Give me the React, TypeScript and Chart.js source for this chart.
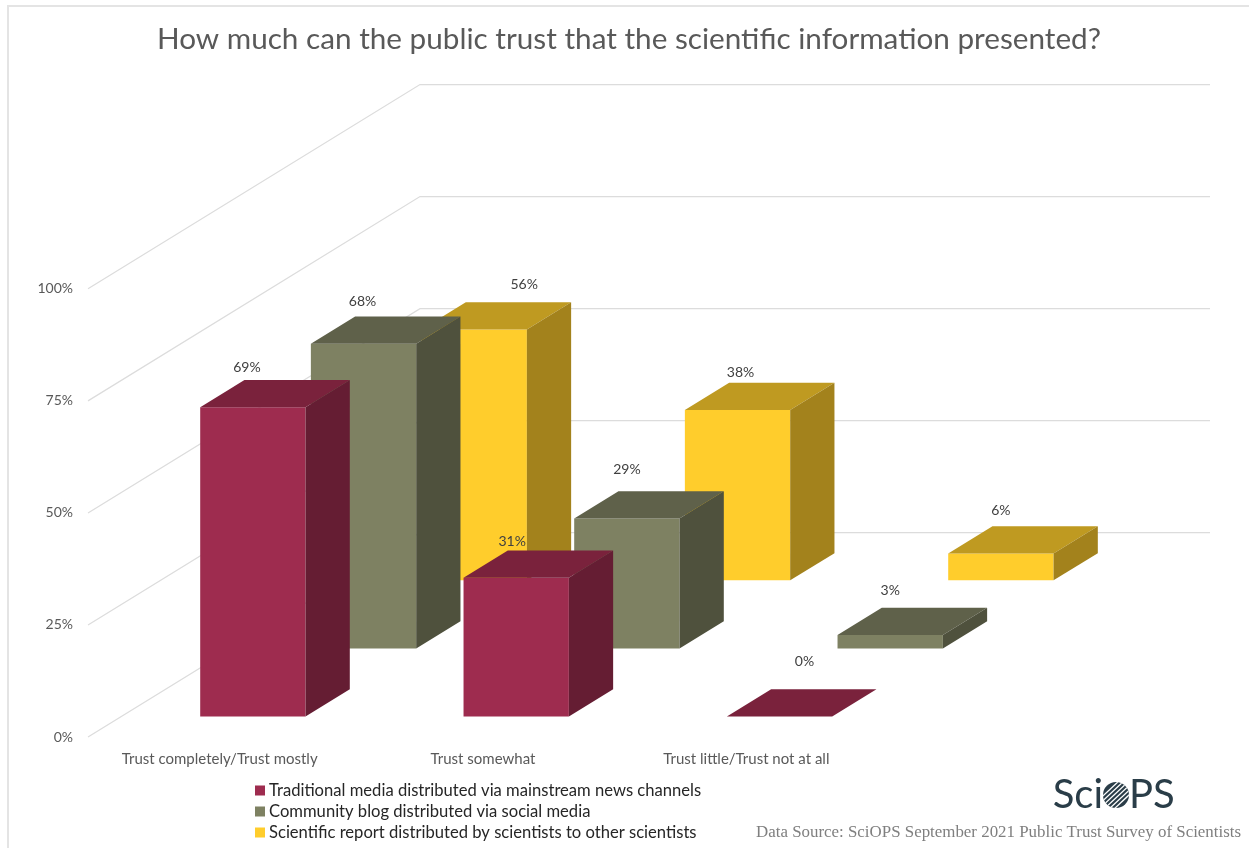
import React, { useEffect, useRef } from "react";
import { Chart, registerables } from "chart.js";

Chart.register(...registerables);

const categories = ["Trust completely/Trust mostly", "Trust somewhat", "Trust little/Trust not at all"];
const traditionalMedia = [69, 31, 0];
const communityBlog = [68, 29, 3];
const scientificReport = [56, 38, 6];
const seriesNames = [
  "Traditional media distributed via mainstream news channels",
  "Community blog distributed via social media",
  "Scientific report distributed by scientists to other scientists",
];
const axisTicks = [0, 25, 50, 75, 100];

const FRONT_COLORS = ["#9E2C4F", "#7E8162", "#FFCD2C"];
const TOP_COLORS = ["#7A223C", "#5F614A", "#BF9A21"];
const SIDE_COLORS = ["#651D33", "#4F513D", "#A3821C"];

const TITLE = "How much can the public trust that the scientific information presented?";
const SOURCE = "Data Source: SciOPS September 2021 Public Trust Survey of Scientists";
const TEXT_GREY = "#595959";
const BODY_FONT = "Lato";

// Oblique projection of the floor: total shift from the front edge to the back wall.
const DEPTH_X = 332;
const DEPTH_Y = -204.3;
const SERIES_COUNT = 3;
const BAR_DEPTH_RATIO = 0.4;
const GAP_RATIO = (1 - BAR_DEPTH_RATIO) / 2;

// Hand placed data label shifts per series/category, relative to the middle of a bar's front top edge.
const LABEL_SHIFTS = [
  [[-6, -40], [-4, -36], [25, -55]],
  [[-1, -42], [0, -49], [0, -45]],
  [[50, -45], [3, -38], [0, -43]],
];

const seriesOffset = (index: number) => ({
  x: (DEPTH_X / SERIES_COUNT) * (index + GAP_RATIO),
  y: (DEPTH_Y / SERIES_COUNT) * (index + GAP_RATIO),
});
const barDepth = {
  x: (DEPTH_X / SERIES_COUNT) * BAR_DEPTH_RATIO,
  y: (DEPTH_Y / SERIES_COUNT) * BAR_DEPTH_RATIO,
};

function polygon(ctx: CanvasRenderingContext2D, points: number[][], fill: string) {
  ctx.beginPath();
  points.forEach(([x, y], i) => (i ? ctx.lineTo(x, y) : ctx.moveTo(x, y)));
  ctx.closePath();
  ctx.fillStyle = fill;
  ctx.fill();
}

// Gridlines run along the left wall and then across the back wall.
const wallGridPlugin = {
  id: "wallGrid",
  beforeDatasetsDraw(chart: any) {
    const { ctx, chartArea } = chart;
    const y = chart.scales.y;
    ctx.save();
    ctx.strokeStyle = "#DCDCDC";
    ctx.lineWidth = 1.2;
    y.ticks.forEach((tick: any) => {
      const py = y.getPixelForValue(tick.value);
      ctx.beginPath();
      ctx.moveTo(chartArea.left, py);
      ctx.lineTo(chartArea.left + DEPTH_X, py + DEPTH_Y);
      ctx.lineTo(chartArea.right + DEPTH_X, py + DEPTH_Y);
      ctx.stroke();
    });
    ctx.restore();
  },
};

// Shifts each series back along the floor and adds the top and side faces of its bars.
const extrudePlugin = {
  id: "extrude",
  beforeDatasetDraw(chart: any, args: any) {
    const off = seriesOffset(args.index);
    chart.ctx.save();
    chart.ctx.translate(off.x, off.y);
  },
  afterDatasetDraw(chart: any, args: any) {
    const ctx = chart.ctx;
    chart.getDatasetMeta(args.index).data.forEach((bar: any) => {
      const left = bar.x - bar.width / 2;
      const right = bar.x + bar.width / 2;
      const dx = barDepth.x;
      const dy = barDepth.y;
      polygon(ctx, [[left, bar.y], [right, bar.y], [right + dx, bar.y + dy], [left + dx, bar.y + dy]], TOP_COLORS[args.index]);
      if (bar.base > bar.y) {
        polygon(ctx, [[right, bar.y], [right + dx, bar.y + dy], [right + dx, bar.base + dy], [right, bar.base]], SIDE_COLORS[args.index]);
      }
    });
    ctx.restore();
  },
};

const dataLabelPlugin = {
  id: "valueLabels",
  afterDatasetsDraw(chart: any) {
    const { ctx } = chart;
    ctx.save();
    ctx.font = `14px ${BODY_FONT}`;
    ctx.fillStyle = "#404040";
    ctx.textAlign = "center";
    ctx.textBaseline = "middle";
    chart.data.datasets.forEach((dataset: any, s: number) => {
      const off = seriesOffset(s);
      chart.getDatasetMeta(s).data.forEach((bar: any, c: number) => {
        const [sx, sy] = LABEL_SHIFTS[s][c];
        ctx.fillText(`${dataset.data[c]}%`, bar.x + off.x + sx, bar.y + off.y + sy);
      });
    });
    ctx.restore();
  },
};

// Stacked legend, frame, source note and wordmark around the plot.
const furniturePlugin = {
  id: "furniture",
  afterLayout(chart: any) {
    // The heading is centred on the whole frame, not on the plot.
    chart.titleBlock.left = 9;
    chart.titleBlock.right = 1249;
  },
  afterDraw(chart: any) {
    const { ctx } = chart;
    ctx.save();

    ctx.strokeStyle = "#E4E4E4";
    ctx.lineWidth = 2;
    ctx.beginPath();
    ctx.moveTo(8, 848);
    ctx.lineTo(8, 6);
    ctx.lineTo(1249, 6);
    ctx.stroke();

    ctx.textBaseline = "middle";
    ctx.textAlign = "left";
    ctx.font = `16.6px ${BODY_FONT}`;
    chart.data.datasets.forEach((dataset: any, i: number) => {
      const rowY = 790.5 + i * 21;
      ctx.fillStyle = dataset.backgroundColor;
      ctx.fillRect(255, rowY - 5, 10, 10);
      ctx.fillStyle = "#262626";
      ctx.fillText(dataset.label, 269, rowY);
    });

    ctx.font = `16.9px "Liberation Serif"`;
    ctx.fillStyle = "#7F7F7F";
    ctx.textAlign = "right";
    ctx.fillText(SOURCE, 1241, 833);

    const ink = "#2A3D48";
    ctx.font = `40px ${BODY_FONT}`;
    ctx.fillStyle = ink;
    ctx.textAlign = "right";
    ctx.fillText("Sci", 1103, 795);
    ctx.textAlign = "left";
    ctx.fillText("PS", 1129, 795);

    ctx.save();
    ctx.beginPath();
    ctx.arc(1116, 795, 13, 0, Math.PI * 2);
    ctx.fillStyle = ink;
    ctx.fill();
    ctx.clip();
    ctx.strokeStyle = "#FFFFFF";
    ctx.lineWidth = 1.3;
    [-12, -7, -2, 3, 8, 13].forEach((shift) => {
      ctx.beginPath();
      ctx.moveTo(1100 + shift, 810);
      ctx.lineTo(1132 + shift, 780);
      ctx.stroke();
    });
    ctx.restore();

    ctx.restore();
  },
};

export default function App() {
  const canvasRef = useRef<HTMLCanvasElement | null>(null);

  useEffect(() => {
    document.body.style.margin = "0";
    const canvas = canvasRef.current;
    if (!canvas) return;
    const seriesValues = [traditionalMedia, communityBlog, scientificReport];
    const chart = new Chart(canvas, {
      type: "bar",
      data: {
        labels: categories,
        datasets: seriesValues.map((data, i) => ({
          label: seriesNames[i],
          data,
          backgroundColor: FRONT_COLORS[i],
          clip: false as any,
        })),
      },
      options: {
        responsive: false,
        animation: false,
        grouped: false,
        barPercentage: 1,
        categoryPercentage: 0.4,
        layout: { padding: { left: 0, right: 371, top: 0, bottom: 0 } },
        plugins: {
          legend: { display: false },
          tooltip: { enabled: false },
          title: {
            display: true,
            text: TITLE,
            color: TEXT_GREY,
            font: { family: BODY_FONT, size: 29.7, weight: "normal", lineHeight: 1.2 },
            padding: { top: 21.6, bottom: 231.6 },
          },
        },
        scales: {
          x: {
            grid: { display: false },
            border: { display: false },
            ticks: {
              color: TEXT_GREY,
              font: { family: BODY_FONT, size: 15 },
              padding: 5,
              maxRotation: 0,
              autoSkip: false,
            },
            afterFit(scale: any) {
              scale.height = 111;
            },
          },
          y: {
            min: 0,
            max: 100,
            grid: { display: false },
            border: { display: false },
            afterBuildTicks(scale: any) {
              scale.ticks = axisTicks.map((value) => ({ value }));
            },
            ticks: {
              color: TEXT_GREY,
              font: { family: BODY_FONT, size: 14 },
              padding: 7,
              callback: (value: any) => `${value}%`,
            },
            afterFit(scale: any) {
              scale.width = 88;
            },
          },
        },
      } as any,
      plugins: [wallGridPlugin, extrudePlugin, dataLabelPlugin, furniturePlugin],
    });
    return () => chart.destroy();
  }, []);

  return <canvas ref={canvasRef} width={1249} height={848} style={{ display: "block" }} />;
}
